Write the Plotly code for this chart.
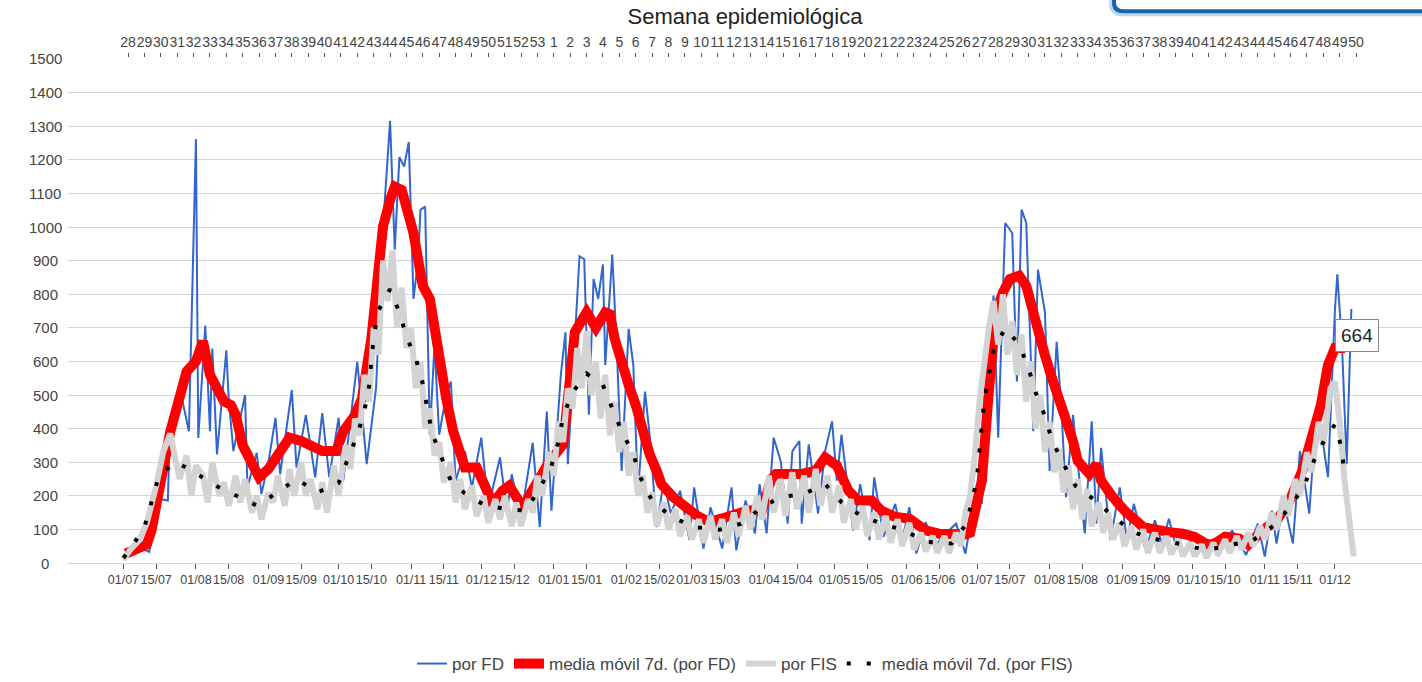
import pandas as pd
import plotly.graph_objects as go

START = "2020-07-01"

# ---- por FD (daily): day offset from START, value
fd_days = [0, 3, 7, 11, 12, 16, 19, 20, 23, 25, 27, 28, 31, 32, 35, 37, 38, 40, 44, 45, 47, 52, 53, 57, 59, 62, 65, 67,
           72, 74, 78, 82, 85, 88, 92, 94, 100, 104, 108, 111, 114, 116, 118, 120, 122, 124, 126, 127, 129, 131, 133,
           135, 138, 140, 142, 146, 149, 153, 156, 161, 164, 166, 170, 175, 178, 181, 183, 187, 189, 190, 195, 197,
           199, 201, 203, 205, 206, 209, 211, 213, 216, 218, 220, 223, 225, 228, 231, 234, 238, 242, 244, 248, 251,
           256, 260, 262, 266, 270, 272, 275, 278, 281, 284, 286, 289, 290, 293, 297, 300, 303, 305, 307, 309, 312,
           315, 319, 321, 325, 330, 333, 336, 339, 343, 347, 350, 356, 360, 365, 367, 369, 372, 374, 377, 380, 382,
           384, 386, 389, 391, 394, 396, 399, 401, 403, 406, 411, 414, 416, 418, 422, 426, 429, 432, 437, 441, 444,
           447, 450, 454, 459, 464, 468, 474, 480, 485, 488, 491, 493, 496, 500, 503, 507, 510, 512, 515, 518, 519,
           521, 523, 525]
fd_vals = [10, 25, 45, 33, 68, 190, 186, 436, 461, 490, 420, 392, 1262, 372, 707, 392, 638, 323, 633, 490, 333, 500,
           225, 328, 205, 300, 432, 264, 515, 284, 441, 255, 446, 255, 432, 245, 599, 294, 520, 1000, 1316, 933, 1208,
           1180, 1253, 786, 900, 1051, 1061, 382, 650, 382, 500, 540, 245, 333, 225, 373, 166, 314, 147, 264, 137,
           358, 107, 451, 156, 559, 687, 294, 913, 904, 441, 845, 786, 889, 589, 918, 628, 274, 697, 589, 206, 510,
           380, 107, 245, 147, 215, 68, 225, 43, 166, 43, 225, 38, 186, 88, 235, 88, 373, 304, 117, 333, 363, 117,
           353, 147, 333, 422, 245, 382, 264, 97, 235, 68, 255, 78, 176, 68, 166, 28, 122, 48, 78, 117, 28, 235, 176,
           520, 796, 373, 1012, 982, 540, 1052, 1012, 392, 873, 746, 274, 658, 461, 196, 441, 88, 422, 117, 343, 68,
           225, 68, 176, 38, 127, 58, 132, 48, 97, 24, 68, 24, 97, 24, 117, 19, 156, 58, 186, 58, 333, 147, 451, 400,
           255, 756, 859, 648, 294, 756]

# ---- media móvil 7d. (por FD)
fd_ma_days = [1, 10, 12, 15, 20, 27, 31, 34, 37, 40, 43, 46, 48, 51, 54, 58, 62, 67, 71, 76, 80, 85, 91, 94, 99, 102,
              106, 109, 111, 114, 116, 119, 121, 124, 126, 128, 131, 133, 135, 138, 141, 144, 146, 151, 155, 158, 162,
              165, 168, 171, 174, 178, 182, 188, 193, 198, 202, 206, 208, 210, 213, 216, 219, 222, 225, 228, 230, 235,
              240, 245, 249, 253, 258, 262, 267, 273, 277, 279, 285, 290, 296, 300, 305, 310, 314, 320, 324, 330, 336,
              343, 349, 354, 360, 362, 364, 367, 370, 373, 376, 379, 383, 386, 389, 391, 394, 397, 400, 403, 406, 408,
              413, 416, 418, 423, 428, 436, 441, 447, 453, 458, 464, 467, 471, 477, 481, 487, 493, 498, 504, 508, 512,
              515, 518, 521, 523]
fd_ma_vals = [28, 55, 97, 210, 390, 570, 600, 660, 560, 520, 481, 470, 441, 350, 305, 255, 280, 335, 373, 363, 348, 333,
              333, 392, 440, 490, 668, 913, 1002, 1080, 1120, 1110, 1061, 982, 903, 825, 786, 687, 589, 490, 392, 323,
              284, 284, 225, 176, 215, 230, 196, 166, 206, 255, 300, 353, 687, 746, 700, 746, 740, 668, 589, 530, 471,
              382, 323, 274, 235, 196, 166, 142, 127, 127, 137, 147, 156, 156, 250, 265, 265, 265, 274, 314, 290, 215,
              186, 186, 156, 137, 132, 97, 87, 83, 85, 90, 147, 245, 510, 746, 805, 845, 855, 825, 746, 687, 618, 550,
              491, 441, 363, 304, 265, 294, 245, 196, 156, 107, 97, 92, 87, 78, 53, 60, 78, 73, 55, 97, 127, 176, 274,
              373, 471, 589, 640, 640, 664]

# ---- por FIS (daily)
fis_days = [0, 3, 7, 10, 14, 17, 20, 22, 24, 27, 29, 31, 34, 36, 38, 41, 43, 45, 48, 50, 52, 55, 57, 59, 62, 64, 66,
            69, 71, 73, 76, 78, 80, 83, 85, 87, 90, 92, 95, 97, 99, 101, 103, 105, 107, 109, 111, 113, 115, 117, 119,
            121, 123, 125, 127, 129, 131, 133, 135, 137, 140, 142, 144, 146, 149, 151, 154, 156, 159, 161, 163, 166,
            168, 170, 173, 175, 177, 179, 182, 184, 186, 188, 190, 192, 194, 196, 198, 200, 202, 204, 206, 208, 210,
            212, 214, 216, 218, 220, 222, 224, 226, 228, 231, 233, 236, 238, 241, 243, 246, 248, 251, 253, 256, 258,
            261, 263, 266, 268, 271, 273, 276, 278, 281, 283, 286, 288, 291, 293, 296, 298, 301, 303, 306, 308, 311,
            313, 316, 318, 321, 323, 326, 328, 331, 333, 336, 338, 341, 343, 346, 348, 351, 353, 356, 358, 360, 362,
            364, 366, 368, 370, 372, 374, 376, 378, 380, 382, 384, 386, 388, 390, 392, 394, 396, 398, 400, 402, 404,
            406, 408, 410, 412, 414, 417, 419, 421, 423, 426, 428, 431, 433, 436, 438, 441, 443, 446, 448, 451, 453,
            456, 458, 461, 463, 466, 468, 471, 473, 476, 478, 481, 483, 486, 488, 491, 493, 496, 498, 501, 503, 506,
            508, 511, 513, 516, 518, 520, 522, 526]
fis_vals = [10, 40, 70, 120, 230, 330, 385, 310, 250, 320, 200, 290, 260, 180, 300, 200, 240, 170, 260, 180, 250, 150,
            200, 130, 210, 180, 260, 170, 280, 200, 300, 200, 250, 160, 240, 150, 290, 200, 350, 280, 430, 380, 560,
            480, 700, 620, 900, 780, 930, 700, 820, 640, 700, 520, 600, 400, 460, 320, 360, 240, 300, 180, 250, 160,
            230, 140, 200, 120, 190, 130, 200, 110, 180, 110, 190, 150, 260, 200, 330, 260, 420, 360, 520, 460, 640,
            520, 690, 500, 600, 430, 560, 380, 480, 330, 420, 260, 330, 200, 260, 150, 210, 110, 180, 100, 160, 80,
            140, 70, 130, 60, 140, 70, 130, 60, 150, 80, 170, 100, 200, 130, 260, 150, 250, 140, 270, 160, 260, 150,
            280, 170, 260, 150, 230, 120, 190, 100, 170, 80, 150, 70, 140, 60, 130, 50, 120, 40, 90, 35, 80, 30, 80,
            30, 90, 50, 150, 200, 320, 480, 600, 700, 780, 650, 800, 620, 720, 560, 680, 480, 600, 400, 500, 330, 420,
            270, 340, 210, 290, 160, 250, 130, 220, 110, 180, 90, 150, 70, 120, 50, 110, 40, 100, 30, 90, 30, 80, 25,
            70, 20, 60, 20, 55, 15, 60, 25, 70, 30, 80, 40, 90, 50, 110, 70, 150, 100, 200, 140, 250, 200, 330, 270,
            420, 350, 520, 540, 420, 250, 20]

# ---- media móvil 7d. (por FIS)
fis_ma_days = [0, 3, 9, 12, 15, 22, 30, 38, 47, 57, 65, 74, 83, 92, 96, 100, 103, 105, 106, 107, 109, 114, 118, 121,
               125, 128, 130, 132, 136, 140, 146, 154, 163, 172, 178, 183, 186, 188, 192, 198, 205, 209, 213, 218, 221,
               226, 234, 244, 255, 264, 273, 281, 291, 300, 307, 315, 324, 334, 343, 354, 360, 363, 365, 366, 367, 368,
               370, 372, 377, 383, 387, 390, 394, 397, 402, 407, 416, 424, 433, 442, 453, 463, 473, 483, 492, 499, 505,
               509, 514, 518, 521, 522]
fis_ma_vals = [15, 43, 107, 181, 255, 302, 272, 235, 206, 171, 206, 250, 210, 238, 311, 381, 451, 525, 599, 673, 751,
               815, 746, 673, 609, 533, 458, 387, 314, 245, 207, 174, 161, 156, 222, 289, 361, 437, 507, 564, 530, 461,
               392, 325, 255, 186, 139, 107, 99, 117, 166, 196, 206, 235, 181, 142, 117, 97, 63, 58, 112, 186, 258, 333,
               407, 481, 558, 633, 699, 650, 579, 508, 437, 365, 294, 230, 184, 132, 89, 70, 55, 38, 53, 68, 112, 168,
               232, 304, 373, 412, 338, 262]

# ---- axis labels
date_ticks = ["2020-07-01", "2020-07-15", "2020-08-01", "2020-08-15", "2020-09-01", "2020-09-15", "2020-10-01",
              "2020-10-15", "2020-11-01", "2020-11-15", "2020-12-01", "2020-12-15", "2021-01-01", "2021-01-15",
              "2021-02-01", "2021-02-15", "2021-03-01", "2021-03-15", "2021-04-01", "2021-04-15", "2021-05-01",
              "2021-05-15", "2021-06-01", "2021-06-15", "2021-07-01", "2021-07-15", "2021-08-01", "2021-08-15",
              "2021-09-01", "2021-09-15", "2021-10-01", "2021-10-15", "2021-11-01", "2021-11-15", "2021-12-01"]
date_labels = ["01/07", "15/07", "01/08", "15/08", "01/09", "15/09", "01/10", "15/10", "01/11", "15/11", "01/12",
               "15/12", "01/01", "15/01", "01/02", "15/02", "01/03", "15/03", "01/04", "15/04", "01/05", "15/05",
               "01/06", "15/06", "01/07", "15/07", "01/08", "15/08", "01/09", "15/09", "01/10", "15/10", "01/11",
               "15/11", "01/12"]
week_labels = [str(w) for w in list(range(28, 54)) + list(range(1, 51))]
week_first = "2020-07-03"
y_ticks = list(range(0, 1501, 100))

base = pd.Timestamp(START)


def to_dates(days):
    return [base + pd.Timedelta(days=d) for d in days]


week_ticks = list(pd.date_range(week_first, periods=len(week_labels), freq="7D"))

FONT = "Liberation Sans, Arial, sans-serif"
TXT = "#444444"

fig = go.Figure()
fig.add_trace(go.Scatter(x=to_dates(fd_days), y=fd_vals, mode="lines", name="por FD",
                         line=dict(color="#3366cc", width=2)))
fig.add_trace(go.Scatter(x=to_dates(fd_ma_days), y=fd_ma_vals, mode="lines", name="media móvil 7d. (por FD)",
                         line=dict(color="#ff0000", width=10)))
fig.add_trace(go.Scatter(x=to_dates(fis_days), y=fis_vals, mode="lines", name="por FIS",
                         line=dict(color="#d3d3d3", width=6)))
fig.add_trace(go.Scatter(x=to_dates(fis_ma_days), y=fis_ma_vals, mode="lines", name="media móvil 7d. (por FIS)",
                         line=dict(color="#000000", width=4, dash="4px,16px")))
# helper trace so the top (week) axis is drawn
fig.add_trace(go.Scatter(x=week_ticks, y=[0] * len(week_ticks), xaxis="x2", mode="markers",
                         marker=dict(opacity=0), showlegend=False, hoverinfo="skip"))

x_range = [base + pd.Timedelta(days=-23.7), base + pd.Timedelta(days=555.2)]

# layout geometry (px)
L, R, T, B, W_, H_ = 68, 0, 58, 116, 1422, 682
PW, PH = W_ - L - R, H_ - T - B
Y_TOP = 1500 + 1 / 0.338  # 1500 gridline sits 1px below plot top


def px_x(px):
    return (px - L) / PW


def px_y(py):
    return 1 - (py - T) / PH


fig.update_layout(
    width=W_, height=H_,
    margin=dict(l=L, r=R, t=T, b=B, pad=0),
    paper_bgcolor="white", plot_bgcolor="white",
    font=dict(family=FONT, size=15, color=TXT),
    showlegend=True,
    legend=dict(orientation="h", x=0.5, xanchor="center", y=px_y(668), yanchor="middle",
                font=dict(family=FONT, size=17, color=TXT), bgcolor="rgba(0,0,0,0)"),
    xaxis=dict(type="date", range=x_range, tickmode="array", tickvals=date_ticks, ticktext=date_labels,
               tickangle=0, ticks="outside", ticklen=5, tickcolor="#555555", tickwidth=1,
               showgrid=False, zeroline=False, showline=False, automargin=False,
               tickfont=dict(family=FONT, size=12.5, color=TXT)),
    xaxis2=dict(type="date", overlaying="x", side="top", anchor="y", range=x_range, tickmode="array",
                tickvals=week_ticks, ticktext=week_labels, tickangle=0, ticks="outside", ticklen=4,
                tickcolor="#555555", showgrid=False, zeroline=False, showline=False, automargin=False,
                tickfont=dict(family=FONT, size=14, color=TXT),
                title=dict(text="Semana epidemiológica", font=dict(family=FONT, size=22, color="#222222"),
                           standoff=3)),
    yaxis=dict(range=[0, Y_TOP], tickmode="array", tickvals=y_ticks, showgrid=True, gridcolor="#d6d6d6",
               gridwidth=1, zeroline=True, zerolinecolor="#d6d6d6", zerolinewidth=1, showline=False,
               ticks="", showticklabels=False, automargin=False),
)

# y tick labels, centred in the left margin as in the original
for v in y_ticks:
    fig.add_annotation(x=px_x(45), xref="paper", y=v, yref="y", text=str(v), showarrow=False,
                       xanchor="center", yanchor="middle", font=dict(family=FONT, size=15, color=TXT))

last_day = fd_ma_days[-1]
last_val = fd_ma_vals[-1]
fig.add_annotation(x=base + pd.Timedelta(days=last_day), y=last_val, text=str(last_val), showarrow=False,
                   xanchor="center", yanchor="middle", xshift=10, yshift=4,
                   font=dict(family=FONT, size=19, color="#222222"),
                   bgcolor="white", bordercolor="#888888", borderwidth=1, borderpad=5)

# partial blue panel frame in the top-right corner of the screenshot
glow = (f"M {px_x(1111)},{px_y(-6)} L {px_x(1111)},{px_y(3)} Q {px_x(1111)},{px_y(14)} {px_x(1122)},{px_y(14)} "
        f"L {px_x(1430)},{px_y(14)}")
edge = (f"M {px_x(1114)},{px_y(-6)} L {px_x(1114)},{px_y(2)} Q {px_x(1114)},{px_y(11)} {px_x(1123)},{px_y(11)} "
        f"L {px_x(1430)},{px_y(11)}")
fig.add_shape(type="path", path=glow, xref="paper", yref="paper", line=dict(color="#b9d8f0", width=4))
fig.add_shape(type="path", path=edge, xref="paper", yref="paper", line=dict(color="#1d63a8", width=4))

fig.write_html("out.html", include_plotlyjs=True, config={"displayModeBar": False},
               post_script="document.body.style.margin='0';document.body.style.padding='0';")
